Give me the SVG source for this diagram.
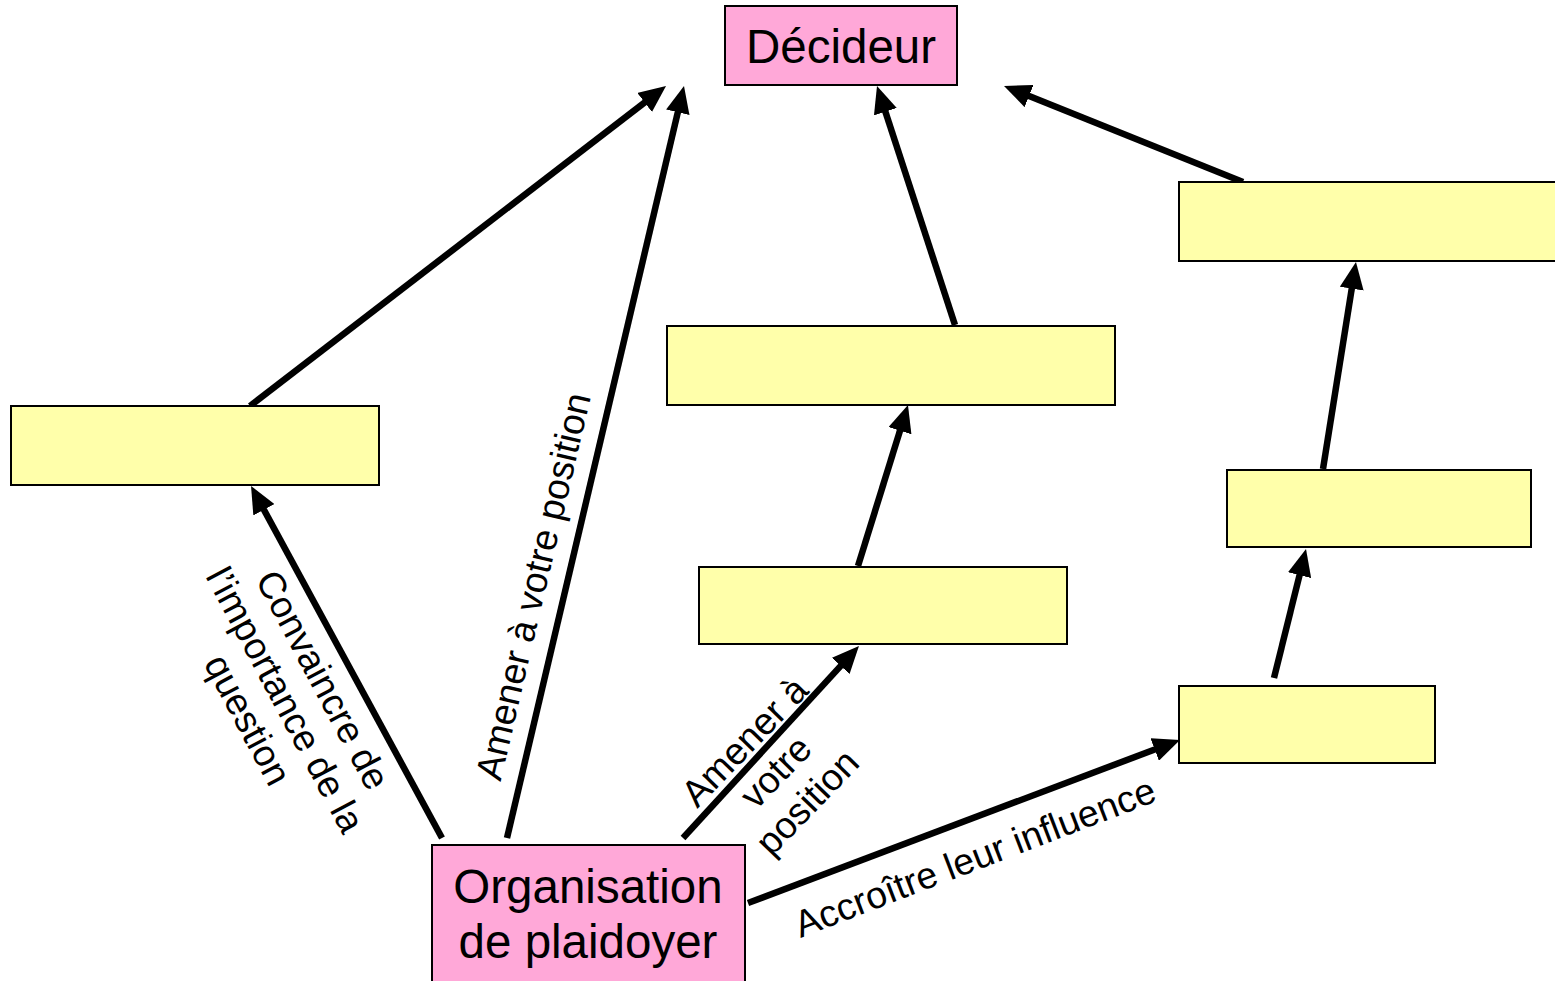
<svg xmlns="http://www.w3.org/2000/svg" width="1555" height="981" viewBox="0 0 1555 981">
<style>
.pink{fill:#FFA8D8;stroke:#000;stroke-width:2}
.yel{fill:#FFFFAA;stroke:#000;stroke-width:2}
.nt{font-family:"Liberation Sans",Arial,sans-serif;font-size:47.5px;fill:#000;text-anchor:middle}
.lb{font-family:"Liberation Sans",Arial,sans-serif;font-size:37.5px;fill:#000;text-anchor:middle}
.ar{stroke:#000;stroke-width:6.5;fill:none;marker-end:url(#ah)}
</style>
<defs>
<marker id="ah" markerUnits="userSpaceOnUse" markerWidth="27" markerHeight="24" viewBox="0 0 27 24" refX="17" refY="12" orient="auto">
<path d="M0,0 L27,12 L0,24 z" fill="#000"/>
</marker>
</defs>
<rect width="1555" height="981" fill="#fff"/>
<g id="connectors">
<line class="ar" x1="250" y1="406" x2="658.1" y2="92.1"/>
<line class="ar" x1="507" y1="838" x2="681.7" y2="95.7"/>
<line class="ar" x1="955" y1="325" x2="880.1" y2="95.5"/>
<line class="ar" x1="1243" y1="182" x2="1013.3" y2="89.7"/>
<line class="ar" x1="442" y1="838" x2="255.8" y2="494.8"/>
<line class="ar" x1="683" y1="838" x2="852.2" y2="653.4"/>
<line class="ar" x1="858" y1="566" x2="905.0" y2="414.5"/>
<line class="ar" x1="748" y1="903" x2="1170.6" y2="743.5"/>
<line class="ar" x1="1323" y1="469" x2="1354.4" y2="271.9"/>
<line class="ar" x1="1274" y1="678" x2="1303.6" y2="558.7"/>
<text class="lb" transform="translate(545.7,589.2) rotate(-76.8)">Amener à votre position</text>
<text class="lb" transform="translate(979.5,869.2) rotate(-21)">Accroître leur influence</text>
<text class="lb" transform="translate(285,700) rotate(62)"><tspan x="0" y="-30">Convaincre de</tspan><tspan x="0" y="12.5">l’importance de la</tspan><tspan x="0" y="55">question</tspan></text>
<text class="lb" transform="translate(776,772) rotate(-46)"><tspan x="0" y="-31">Amener à</tspan><tspan x="0" y="12.5">votre</tspan><tspan x="0" y="56">position</tspan></text>
</g>
<g id="decideur"><rect class="pink" x="725" y="6" width="232" height="79"/><text class="nt" x="841" y="63">Décideur</text></g>
<g id="organisation"><rect class="pink" x="432" y="845" width="313" height="140"/><text class="nt" x="588" y="903">Organisation</text><text class="nt" x="588" y="958">de plaidoyer</text></g>
<g id="box1"><rect class="yel" x="11" y="406" width="368" height="79"/></g>
<g id="box2"><rect class="yel" x="667" y="326" width="448" height="79"/></g>
<g id="box3"><rect class="yel" x="699" y="567" width="368" height="77"/></g>
<g id="box4"><rect class="yel" x="1179" y="182" width="380" height="79"/></g>
<g id="box5"><rect class="yel" x="1227" y="470" width="304" height="77"/></g>
<g id="box6"><rect class="yel" x="1179" y="686" width="256" height="77"/></g>
</svg>
